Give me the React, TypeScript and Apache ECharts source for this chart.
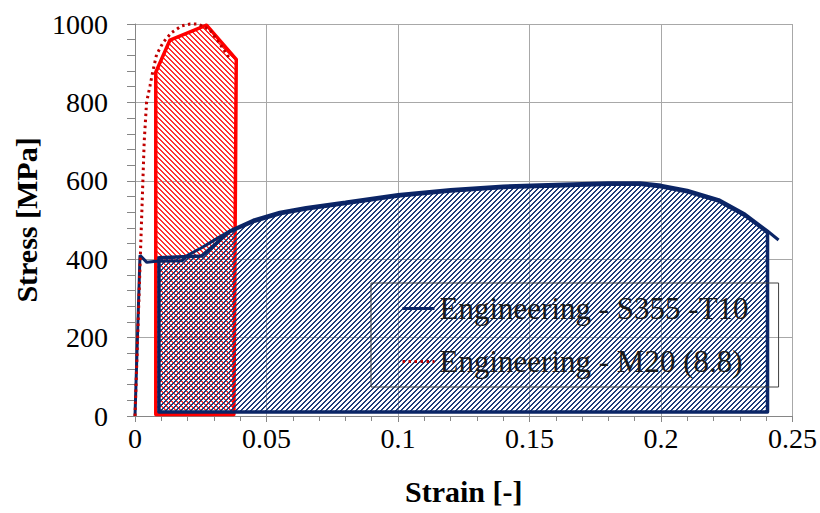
import React, { useEffect, useRef } from 'react';
import * as echarts from 'echarts';

// Engineering stress-strain curve, S355 plate T10
const s355Strain = [0, 0.0019, 0.0045, 0.008, 0.018, 0.02, 0.025, 0.03, 0.036, 0.045, 0.055, 0.065, 0.08, 0.1, 0.12, 0.14, 0.16, 0.18, 0.192, 0.2, 0.21, 0.222, 0.232, 0.2405, 0.2447];
const s355Stress = [0, 410, 392, 395, 396, 410, 428, 448, 472, 500, 520, 532, 546, 565, 578, 587, 591, 595, 595, 589, 576, 552, 515, 472, 449];

// Engineering stress-strain curve, bolt M20 grade 8.8
const m20Strain = [0, 0.002, 0.0035, 0.0044, 0.0057, 0.0068, 0.0082, 0.0107, 0.0139, 0.0177, 0.021, 0.024, 0.0285, 0.032, 0.036];
const m20Stress = [0, 400, 700, 800, 842, 880, 922, 953, 978, 995, 1000, 1000, 985, 952, 912];

// Hatched energy region under the S355 curve
const s355AreaStrain = [0.0091, 0.0091, 0.0253, 0.036, 0.045, 0.055, 0.065, 0.08, 0.1, 0.12, 0.14, 0.16, 0.18, 0.192, 0.2, 0.21, 0.222, 0.232, 0.2405, 0.2405];
const s355AreaStress = [10, 404, 408, 470, 496, 516, 528, 542, 561, 574, 583, 587, 591, 591, 585, 572, 548, 511, 468, 10];

// Hatched energy region under the M20 curve
const m20AreaStrain = [0.0079, 0.0079, 0.0133, 0.0272, 0.0385, 0.0376];
const m20AreaStress = [4, 877, 959, 997, 910, 4];

const legendNames = ['Engineering - S355 -T10', 'Engineering - M20 (8.8)'];

const NAVY = '#0b2566';
const RED = '#ff0000';
const FONT = '"Liberation Serif", "DejaVu Serif", serif';

function hatchTile(color: string, dir: 'up' | 'down', period: number) {
  const c = document.createElement('canvas');
  c.width = period;
  c.height = period;
  const ctx = c.getContext('2d')!;
  ctx.fillStyle = color;
  for (let y = 0; y < period; y++) {
    for (let x = 0; x < period; x++) {
      const k = dir === 'up' ? (x + y) % period : (((x - y) % period) + period) % period;
      if (k < 2) ctx.fillRect(x, y, 1, 1);
    }
  }
  return c;
}

function polygonSeries(xs: number[], ys: number[], fill: any, stroke: string, lineWidth: number, z: number) {
  return {
    type: 'custom',
    coordinateSystem: 'cartesian2d',
    silent: true,
    z,
    data: xs.map((x, i) => [x, ys[i]]),
    encode: { x: 0, y: 1 },
    renderItem: (params: any, api: any) => {
      if (params.dataIndex !== 0) return null;
      const points = xs.map((x, i) => api.coord([x, ys[i]]));
      return {
        type: 'polygon',
        shape: { points },
        style: { fill, stroke, lineWidth, lineJoin: 'round' },
      };
    },
  };
}

export default function App() {
  const ref = useRef<HTMLDivElement>(null);

  useEffect(() => {
    if (!ref.current) return;
    const chart = echarts.init(ref.current, undefined, { renderer: 'svg' });

    const blueTile = hatchTile('#1f3d7c', 'up', 5);
    const redTile = hatchTile('#ff3030', 'down', 5);
    const blueFill = { image: blueTile, repeat: 'repeat', imageWidth: 5, imageHeight: 5 };
    const redFill = { image: redTile, repeat: 'repeat', imageWidth: 5, imageHeight: 5 };

    const axisGray = '#868686';
    const gridGray = '#a8a8a8';

    chart.setOption({
      animation: false,
      backgroundColor: '#ffffff',
      grid: { left: 135, right: 27, top: 24, bottom: 97, containLabel: false },
      xAxis: {
        type: 'value',
        min: 0,
        max: 0.25,
        interval: 0.05,
        name: 'Strain [-]',
        nameLocation: 'middle',
        nameGap: 60,
        nameTextStyle: { fontFamily: FONT, fontSize: 30, fontWeight: 'bold', color: '#000' },
        axisLine: { show: true, onZero: false, lineStyle: { color: axisGray, width: 1 } },
        axisTick: { show: true, length: 6, lineStyle: { color: axisGray } },
        minorTick: { show: true, splitNumber: 5, length: 5, lineStyle: { color: axisGray } },
        splitLine: { show: true, lineStyle: { color: gridGray, width: 1 } },
        axisLabel: { fontFamily: FONT, fontSize: 28, color: '#000', margin: 8, formatter: (v: number) => String(v) },
      },
      yAxis: {
        type: 'value',
        min: 0,
        max: 1000,
        interval: 200,
        name: 'Stress [MPa]',
        nameLocation: 'middle',
        nameGap: 92,
        nameRotate: 90,
        nameTextStyle: { fontFamily: FONT, fontSize: 30, fontWeight: 'bold', color: '#000' },
        axisLine: { show: true, lineStyle: { color: axisGray, width: 1 } },
        axisTick: { show: true, length: 8, lineStyle: { color: axisGray } },
        minorTick: { show: true, splitNumber: 5, length: 8, lineStyle: { color: axisGray } },
        splitLine: { show: true, lineStyle: { color: gridGray, width: 1 } },
        axisLabel: { fontFamily: FONT, fontSize: 28, color: '#000', margin: 27, formatter: (v: number) => String(v) },
      },
      legend: {
        data: legendNames,
        orient: 'vertical',
        left: 371,
        top: 283,
        padding: [10, 30, 10, 30],
        itemGap: 22,
        itemWidth: 32,
        itemHeight: 14,
        borderColor: '#404040',
        borderWidth: 1,
        itemStyle: { opacity: 0 },
        lineStyle: { width: 3 },
        textStyle: { fontFamily: FONT, fontSize: 31, color: '#1a1a1a' },
      },
      series: [
        polygonSeries(m20AreaStrain, m20AreaStress, redFill, RED, 3.5, 2),
        polygonSeries(s355AreaStrain, s355AreaStress, blueFill, NAVY, 3.5, 3),
        {
          name: legendNames[0],
          type: 'line',
          z: 5,
          symbol: 'none',
          data: s355Strain.map((x, i) => [x, s355Stress[i]]),
          lineStyle: { color: NAVY, width: 3 },
          itemStyle: { color: NAVY },
        },
        {
          name: legendNames[1],
          type: 'line',
          z: 6,
          symbol: 'none',
          clip: false,
          data: m20Strain.map((x, i) => [x, m20Stress[i]]),
          lineStyle: { color: '#c00000', width: 3, type: [2.5, 3.5] },
          itemStyle: { color: '#c00000' },
        },
      ],
    });

    return () => chart.dispose();
  }, []);

  return <div ref={ref} style={{ position: 'fixed', left: 0, top: 0, width: 820, height: 513 }} />;
}
